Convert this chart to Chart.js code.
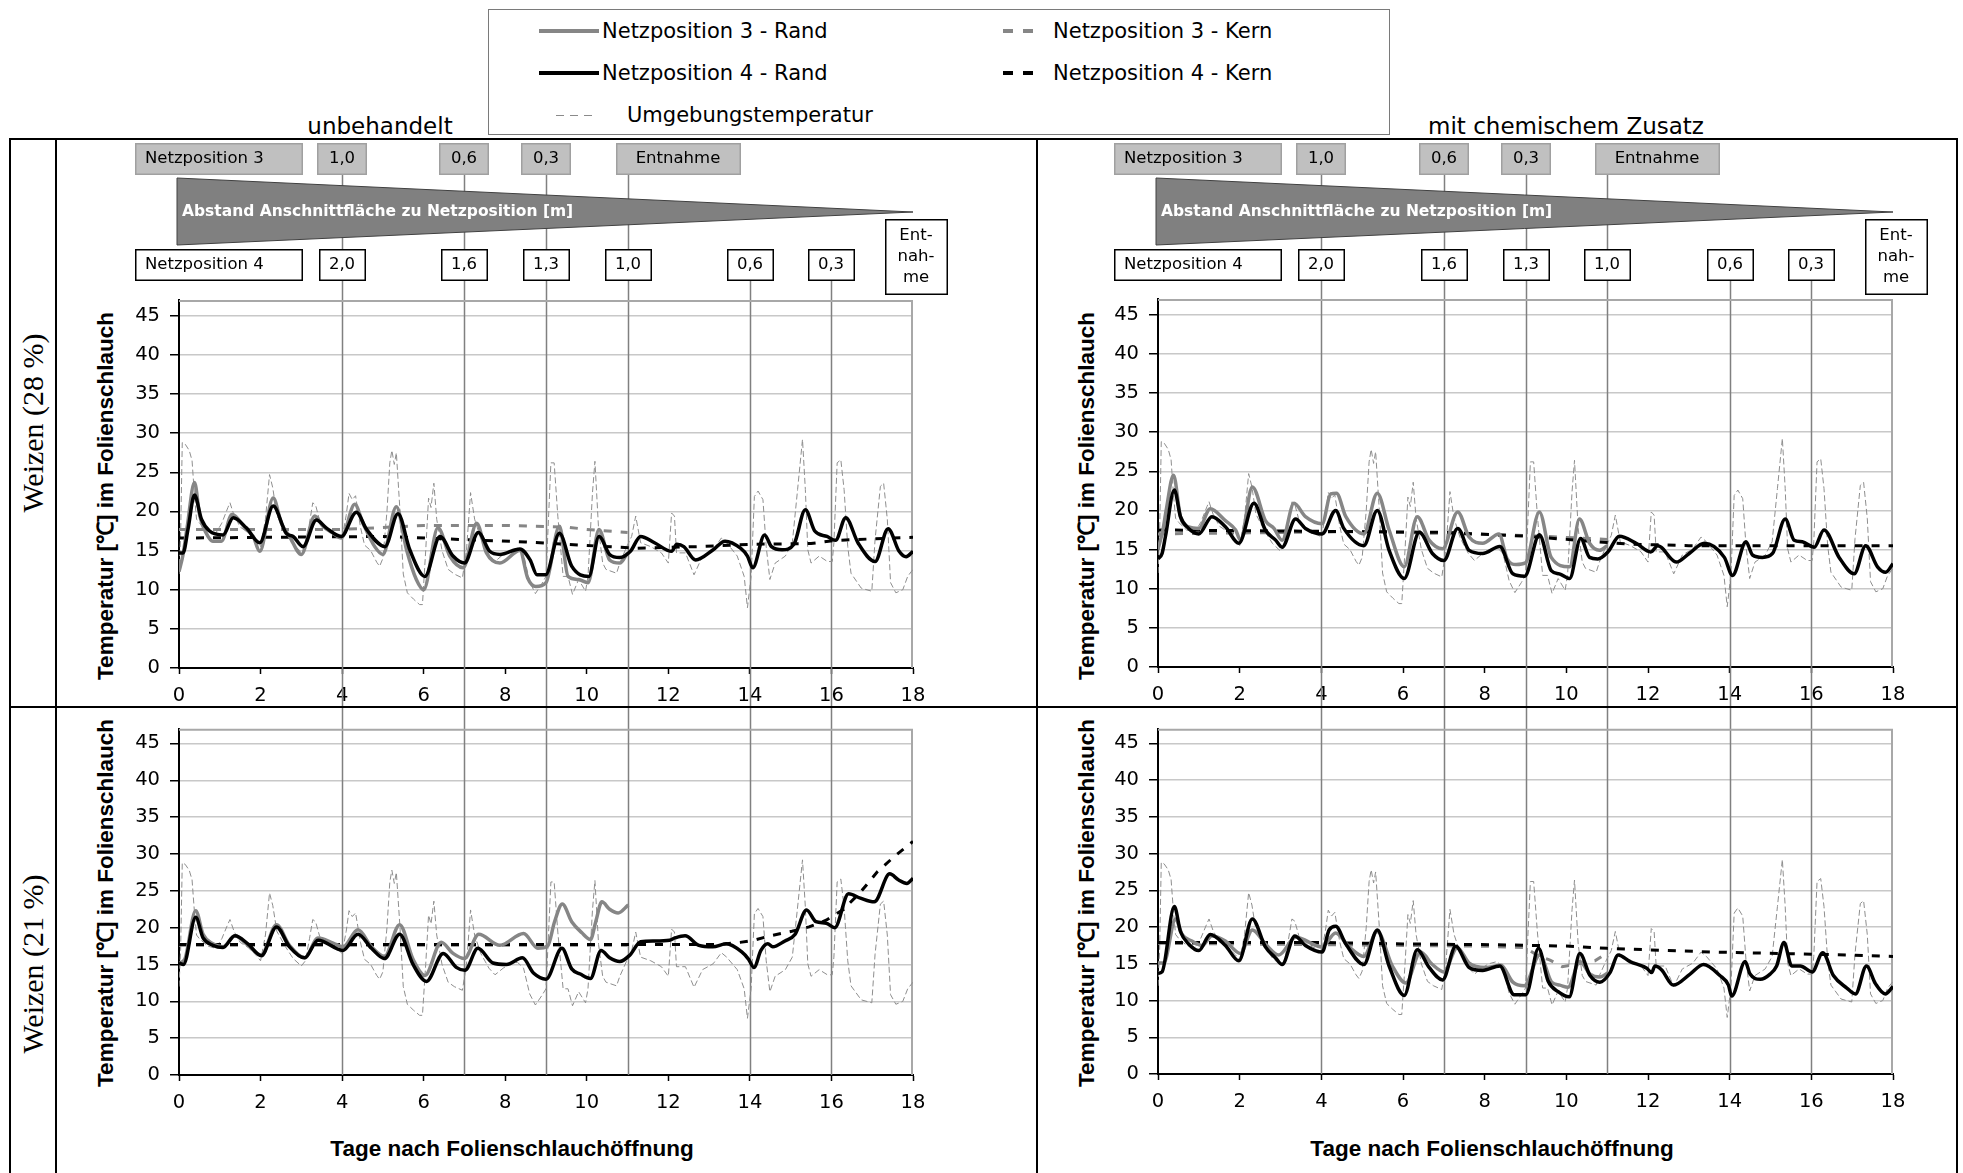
<!DOCTYPE html>
<html lang="de">
<head>
<meta charset="utf-8">
<title>Temperatur im Folienschlauch</title>
<script src="https://cdn.jsdelivr.net/npm/chart.js@4.4.1/dist/chart.umd.min.js"></script>
<style>
  html, body { margin: 0; padding: 0; background: #fff; }
  body { position: relative; width: 1963px; height: 1173px; overflow: hidden; font-family: "DejaVu Sans", sans-serif; color: #000; }
  canvas { position: absolute; }
  .rule { position: absolute; background: #000; z-index: 5; }
  .txt { position: absolute; white-space: nowrap; transform: translate(-50%, -50%); }
  .vert { transform: translate(-50%, -50%) rotate(-90deg); }
  .axis-title { font: bold 22.5px "Liberation Sans", Arial, sans-serif; }
  .row-title { font: 30px "Liberation Serif", "Times New Roman", serif; }
  .col-title { font: 23px "DejaVu Sans", sans-serif; }
  #legend { position: absolute; left: 488px; top: 9px; width: 900px; height: 124px; border: 1.5px solid #7a7a7a; background: #fff; }
  #legend .swatch { position: absolute; height: 4px; margin-top: -2px; }
  #legend .lbl { position: absolute; font: 21px "DejaVu Sans", sans-serif; white-space: nowrap; transform: translateY(-50%); }
</style>
</head>
<body>

<div id="legend">
  <div class="swatch" style="left:50px; top:21px; width:60px; background:#868686;"></div>
  <div class="lbl" style="left:113px; top:21px;">Netzposition 3 - Rand</div>
  <div class="swatch" style="left:50px; top:63px; width:60px; background:#000;"></div>
  <div class="lbl" style="left:113px; top:63px;">Netzposition 4 - Rand</div>
  <div class="swatch" style="left:67px; top:105px; width:40px; height:1px; margin-top:0; background:repeating-linear-gradient(90deg, #8a8a8a 0 8px, transparent 8px 14px);"></div>
  <div class="lbl" style="left:138px; top:105px;">Umgebungstemperatur</div>
  <div class="swatch" style="left:514px; top:21px; width:30px; background:repeating-linear-gradient(90deg, #868686 0 10px, transparent 10px 20px);"></div>
  <div class="lbl" style="left:564px; top:21px;">Netzposition 3 - Kern</div>
  <div class="swatch" style="left:514px; top:63px; width:30px; background:repeating-linear-gradient(90deg, #000 0 10px, transparent 10px 20px);"></div>
  <div class="lbl" style="left:564px; top:63px;">Netzposition 4 - Kern</div>
</div>

<div class="txt col-title" style="left:380px; top:126px;">unbehandelt</div>
<div class="txt col-title" style="left:1566px; top:126px;">mit chemischem Zusatz</div>

<div class="txt row-title vert" style="left:33px; top:423px;">Weizen (28 %)</div>
<div class="txt row-title vert" style="left:33px; top:964px;">Weizen (21 %)</div>

<div class="txt axis-title vert" style="left:104px; top:496px;">Temperatur [℃] im Folienschlauch</div>
<div class="txt axis-title vert" style="left:104px; top:903px;">Temperatur [℃] im Folienschlauch</div>
<div class="txt axis-title vert" style="left:1085px; top:496px;">Temperatur [℃] im Folienschlauch</div>
<div class="txt axis-title vert" style="left:1085px; top:903px;">Temperatur [℃] im Folienschlauch</div>
<div class="txt axis-title" style="left:512px; top:1149px;">Tage nach Folienschlauchöffnung</div>
<div class="txt axis-title" style="left:1492px; top:1149px;">Tage nach Folienschlauchöffnung</div>

<canvas id="u28" width="981" height="568" style="left:56px; top:139px;"></canvas>
<canvas id="c28" width="920" height="568" style="left:1037px; top:139px;"></canvas>
<canvas id="u21" width="981" height="466" style="left:56px; top:707px;"></canvas>
<canvas id="c21" width="920" height="466" style="left:1037px; top:707px;"></canvas>

<div class="rule" style="left:9px; top:138px; width:1949px; height:2px;"></div>
<div class="rule" style="left:9px; top:706px; width:1949px; height:2px;"></div>
<div class="rule" style="left:9px; top:138px; width:2px; height:1040px;"></div>
<div class="rule" style="left:55px; top:138px; width:2px; height:1040px;"></div>
<div class="rule" style="left:1036px; top:138px; width:2px; height:1040px;"></div>
<div class="rule" style="left:1956px; top:138px; width:2px; height:1040px;"></div>

<script>
// axes
const yTickValues = [0, 5, 10, 15, 20, 25, 30, 35, 40, 45];
const dayMin = 0, dayMax = 18, dayStep = 2;
const tempMin = 0, tempMax = 47;

// net positions: day the cut face reached them and the remaining distance [m]
const net3Days = [4, 7, 9];
const net3Dist = ['1,0', '0,6', '0,3'];
const net3RemovalDay = 11;
const net4Days = [4, 7, 9, 11, 14, 16];
const net4Dist = ['2,0', '1,6', '1,3', '1,0', '0,6', '0,3'];
const net4RemovalDay = 18;

// ambient temperature, [day, °C]
const ambient = [
  [0, 12], [0.04, 17], [0.08, 28.8], [0.15, 28.6], [0.25, 27.8], [0.32, 26.5], [0.38, 22], [0.43, 19],
  [0.5, 18.5], [0.7, 17.5], [0.9, 17.2], [1.05, 18.5], [1.2, 20.5], [1.25, 21.1], [1.35, 19.5], [1.5, 18],
  [1.7, 17.3], [1.9, 16.2], [2.0, 15.5], [2.12, 19], [2.22, 24.7], [2.3, 23], [2.4, 19.5], [2.6, 17.5],
  [2.8, 15.8], [3.0, 14.8], [3.1, 15.5], [3.2, 18.5], [3.28, 21.1], [3.35, 20.8], [3.45, 18.8], [3.7, 17.5],
  [3.9, 17], [4.0, 16.5], [4.1, 19.5], [4.17, 22.3], [4.25, 21.5], [4.33, 22], [4.45, 18], [4.55, 15.7],
  [4.7, 15], [4.85, 13.5], [4.92, 13], [5.0, 14], [5.1, 20], [5.17, 26.2], [5.22, 27.8], [5.28, 26],
  [5.33, 27.5], [5.42, 20], [5.5, 12], [5.6, 9.6], [5.75, 8.8], [5.9, 8.1], [5.97, 8.1], [6.05, 15],
  [6.12, 21.7], [6.18, 20.5], [6.25, 23.6], [6.32, 19], [6.45, 15], [6.6, 12.6], [6.75, 12], [6.95, 11.5],
  [7.05, 15], [7.15, 22.4], [7.25, 19], [7.4, 16.5], [7.6, 14.5], [7.75, 13.6], [7.95, 14.5], [8.1, 15],
  [8.3, 15.3], [8.45, 14.5], [8.6, 11], [8.74, 9.5], [8.9, 10.8], [9.0, 11.7], [9.12, 26.2], [9.2, 26.2],
  [9.29, 19.4], [9.42, 11.7], [9.54, 11.7], [9.65, 9.4], [9.8, 11.3], [9.97, 9.8], [10.03, 11.7], [10.14, 22.4],
  [10.2, 26.4], [10.29, 17.7], [10.39, 13.4], [10.47, 12.6], [10.73, 12.1], [10.81, 13.4], [10.98, 15.5], [11.1, 16.8],
  [11.2, 19.4], [11.32, 16], [11.57, 15.5], [11.83, 14.7], [12.0, 13.4], [12.08, 19.8], [12.15, 19.4], [12.2, 14.7],
  [12.42, 14.7], [12.63, 11.9], [12.84, 14.3], [13.1, 15.1], [13.3, 16.6], [13.43, 16], [13.69, 14.3], [13.86, 11.7],
  [13.94, 7.7], [14.03, 11.7], [14.11, 21.9], [14.2, 22.6], [14.32, 21.5], [14.4, 15.5], [14.49, 11.3], [14.62, 13.4],
  [14.87, 14.3], [15.04, 16], [15.17, 22.8], [15.29, 29.2], [15.36, 22.8], [15.42, 15.1], [15.5, 13.4], [15.7, 14.3],
  [15.9, 13.6], [16.02, 13.6], [16.06, 16], [16.14, 26.2], [16.23, 26.6], [16.31, 22.8], [16.4, 15.5], [16.48, 12.1],
  [16.73, 10.2], [16.99, 9.8], [17.07, 16.4], [17.2, 23.2], [17.28, 23.6], [17.37, 19], [17.45, 10.9], [17.58, 9.6],
  [17.75, 10], [17.87, 11.7], [18, 12.6]
];

// Weizen (28 %), unbehandelt
const u28Rand3 = [
  [0, 12.3], [0.1, 14.5], [0.2, 18], [0.38, 23.7], [0.51, 19.4], [0.67, 17.2], [0.83, 16.2], [1.04, 16.2],
  [1.3, 19.6], [1.65, 17.7], [1.82, 16.8], [1.98, 14.9], [2.31, 21.7], [2.51, 18.5], [2.71, 16.8], [3.0, 14.5],
  [3.33, 19.4], [3.53, 18.1], [3.78, 17.2], [3.98, 16.6], [4.31, 20.9], [4.51, 18.5], [4.8, 15.5], [5.0, 14.5],
  [5.33, 20.6], [5.58, 15.1], [5.82, 11.3], [6.0, 10], [6.35, 17.9], [6.64, 14.3], [6.97, 12.8], [7.3, 18.5],
  [7.54, 14.7], [7.87, 13.4], [8.36, 15.0], [8.55, 11.5], [8.75, 10.4], [9.0, 10.9], [9.33, 18.1], [9.54, 11.7],
  [9.8, 11.3], [10.03, 10.9], [10.3, 17.7], [10.56, 13.8], [10.81, 13.4], [11.0, 14.7]
];
const u28Rand4 = [
  [0, 14.7], [0.1, 14.7], [0.22, 17.7], [0.38, 22.1], [0.55, 19], [0.75, 17.5], [1.08, 17], [1.33, 19.2],
  [1.65, 17.9], [1.98, 16], [2.31, 20.7], [2.63, 17.2], [2.8, 16.8], [3.04, 15.5], [3.37, 18.9], [3.61, 17.9],
  [3.98, 16.8], [4.35, 19.9], [4.6, 17.7], [5.05, 15.5], [5.37, 19.7], [5.66, 15.1], [6.03, 11.7], [6.4, 16.8],
  [6.72, 14.3], [7.0, 13.4], [7.34, 17.3], [7.62, 14.9], [7.87, 14.5], [8.36, 15.2], [8.61, 13.8], [8.78, 11.9],
  [8.99, 11.9], [9.33, 17.2], [9.63, 13], [10.05, 11.7], [10.3, 16.8], [10.56, 14.5], [10.81, 14.1], [11.07, 14.9],
  [11.32, 16.8], [11.66, 16], [12.08, 14.9], [12.21, 15.8], [12.38, 15.5], [12.67, 13.8], [13.1, 15.1], [13.39, 16.2],
  [13.77, 15.3], [13.94, 14.3], [14.07, 12.8], [14.36, 17], [14.53, 15.5], [14.79, 15.1], [15.08, 15.8], [15.36, 20.2],
  [15.59, 17.5], [15.89, 16.8], [16.1, 16.3], [16.35, 19.2], [16.65, 16], [17.07, 13.6], [17.39, 17.8], [17.66, 14.9],
  [17.83, 14.2], [18, 14.9]
];
const u28Kern3 = [[0, 17.7], [4, 17.7], [6, 18.2], [8, 18.2], [9.5, 18], [10, 17.7], [11, 17.3]];
const u28Kern4 = [[0, 16.6], [5, 16.8], [8.5, 16.1], [11.2, 15.3], [12.7, 15.5], [14, 15.8], [15.5, 15.9], [16.1, 16.3], [18, 16.7]];

// Weizen (28 %), mit chemischem Zusatz
const c28Rand3 = [
  [0, 15], [0.12, 17.5], [0.2, 20], [0.38, 24.5], [0.55, 19.2], [0.75, 17.9], [1.0, 17.7], [1.28, 20.2],
  [1.65, 18.7], [1.9, 17.5], [2.02, 16.2], [2.31, 23], [2.63, 18.7], [2.84, 17.7], [3.04, 16.2], [3.33, 20.9],
  [3.61, 19.2], [4.02, 18.3], [4.23, 22.1], [4.37, 22.2], [4.6, 19.2], [5.04, 17], [5.37, 22.2], [5.66, 17.5],
  [6.03, 12.8], [6.35, 19.2], [6.64, 16.2], [6.97, 15.1], [7.34, 19.8], [7.62, 16.6], [7.95, 15.8], [8.35, 17],
  [8.55, 13.8], [8.77, 13.1], [9.0, 13.3], [9.34, 19.8], [9.63, 14], [10.08, 12.8], [10.32, 18.9], [10.57, 15.8],
  [10.81, 14.9], [11.0, 15.5]
];
const c28Rand4 = [
  [0, 13.8], [0.1, 14.5], [0.18, 16.6], [0.4, 22.6], [0.55, 19.2], [0.75, 17.7], [1.0, 17], [1.32, 19.2],
  [1.65, 17.9], [1.98, 15.8], [2.35, 20.9], [2.63, 17.5], [2.88, 16.2], [3.04, 15.3], [3.37, 18.9], [3.61, 17.7],
  [4.02, 17], [4.35, 20], [4.55, 17.7], [5.04, 15.5], [5.37, 20], [5.66, 14.9], [6.03, 11.3], [6.4, 17.2],
  [6.72, 14.5], [7.0, 13.6], [7.34, 17.7], [7.62, 14.9], [7.95, 14.5], [8.37, 15.4], [8.69, 11.9], [8.98, 11.6],
  [9.34, 16.9], [9.63, 12.3], [9.83, 11.9], [10.08, 11.3], [10.35, 16.4], [10.57, 14], [10.77, 13.8], [11.02, 14.7],
  [11.3, 16.7], [11.71, 15.8], [12.07, 14.7], [12.24, 15.5], [12.32, 15.3], [12.69, 13.4], [13.01, 14.5], [13.38, 15.8],
  [13.87, 14], [14.07, 11.7], [14.4, 16], [14.56, 14.3], [14.8, 14], [15.05, 14.5], [15.36, 18.9], [15.58, 16.2],
  [15.78, 16], [16.07, 15.3], [16.31, 17.5], [16.68, 14], [17.05, 11.9], [17.33, 15.5], [17.62, 12.8], [17.82, 12.1],
  [18, 13.2]
];
const c28Kern3 = [[0, 17.0], [5, 17.3], [9, 16.8], [11, 16.3]];
const c28Kern4 = [[0, 17.5], [7, 17.2], [9, 16.7], [10, 16.3], [11.5, 15.7], [13, 15.5], [18, 15.5]];

// Weizen (21 %), unbehandelt
const u21Rand3 = [
  [0, 15.2], [0.14, 15.7], [0.41, 22.3], [0.59, 19.1], [0.83, 17.8], [1.08, 17.4], [1.37, 18.9], [1.65, 17.8],
  [2.02, 16.3], [2.39, 20.4], [2.71, 17.6], [3.08, 15.9], [3.41, 18.6], [3.78, 17.9], [4.02, 17.4], [4.39, 19.7],
  [4.72, 17.4], [5.04, 16.1], [5.41, 20.4], [5.74, 15.7], [6.03, 13.5], [6.43, 18], [6.72, 16.5], [7.0, 15.8],
  [7.35, 19.1], [7.87, 17.6], [8.45, 19.2], [8.8, 17.2], [9.04, 17.5], [9.21, 20.8], [9.4, 23.2], [9.63, 20.8],
  [9.88, 19.3], [10.09, 18.4], [10.22, 20.8], [10.37, 23.5], [10.56, 22.5], [10.77, 22], [11.02, 23.1]
];
const u21Rand4 = [
  [0, 15.2], [0.11, 15], [0.41, 21.4], [0.59, 18.6], [0.83, 17.6], [1.08, 17.3], [1.37, 18.9], [1.69, 17.8],
  [2.02, 16.2], [2.39, 20.1], [2.71, 17.4], [3.08, 15.9], [3.41, 18.3], [4.02, 16.9], [4.39, 19.1], [4.72, 17.2],
  [5.04, 15.8], [5.41, 19.1], [5.74, 15], [6.07, 12.7], [6.48, 16.5], [6.8, 14.6], [7.01, 14.2], [7.33, 17.2],
  [7.7, 15.2], [8.03, 15], [8.42, 15.9], [8.7, 13.8], [9.0, 13], [9.39, 17.2], [9.63, 14.4], [9.84, 13.7],
  [10.09, 13.1], [10.35, 16.9], [10.56, 15.9], [10.81, 15.4], [11.06, 16.3], [11.32, 18.1], [11.65, 18.2], [12.03, 18.3],
  [12.16, 18.6], [12.41, 18.9], [12.75, 17.6], [13.09, 17.4], [13.42, 17.8], [13.8, 16.7], [13.97, 15.7], [14.1, 14.6],
  [14.27, 16.9], [14.44, 17.8], [14.56, 17.4], [14.86, 18.2], [15.11, 19.1], [15.39, 22.4], [15.62, 20.8], [15.87, 20.6],
  [16.08, 20], [16.42, 24.6], [16.71, 24], [17.05, 23.5], [17.43, 27.3], [17.64, 26.5], [17.85, 26], [18, 26.7]
];
const u21Kern3 = [[0, 17.6], [11, 17.6]];
const u21Kern4 = [
  [0, 17.7], [13.25, 17.7], [13.76, 18], [14.1, 18.3], [14.5, 18.9], [15.03, 19.5], [15.45, 20.1],
  [15.87, 21], [16.3, 22.5], [16.71, 24.8], [17.13, 27.6], [17.55, 29.7], [18, 31.7]
];

// Weizen (21 %), mit chemischem Zusatz
const c21Rand3 = [
  [0, 15.1], [0.14, 15.1], [0.43, 21.1], [0.59, 19], [0.83, 18.1], [1.08, 17.5], [1.32, 18.8], [1.65, 18.1],
  [2.02, 16.4], [2.31, 19.6], [2.63, 17.7], [2.96, 16.2], [3.37, 18.6], [4.02, 17.3], [4.35, 19.2], [4.68, 17.3],
  [5.04, 16], [5.37, 19.4], [5.74, 14.7], [6.07, 12.4], [6.43, 16.6], [6.72, 14.9], [7.0, 13.9], [7.33, 17.2],
  [7.62, 15.1], [8.03, 14.5], [8.4, 14.8], [8.69, 12.5], [8.97, 12], [9.35, 16.2], [9.64, 12.5], [9.84, 12.1],
  [10.04, 11.8], [10.33, 15.3], [10.58, 13.6], [10.82, 13.2], [11.03, 13.8]
];
const c21Rand4 = [
  [0, 13.7], [0.1, 13.9], [0.4, 22.8], [0.55, 19.4], [0.75, 17.7], [1.0, 16.8], [1.28, 19], [1.65, 17.5],
  [1.98, 15.4], [2.31, 21.1], [2.63, 17.3], [2.88, 15.8], [3.04, 14.9], [3.35, 18.8], [3.61, 17.5], [4.02, 16.6],
  [4.19, 19.6], [4.35, 20.1], [4.6, 17.7], [5.04, 14.9], [5.37, 19.6], [5.66, 14.7], [6.03, 10.7], [6.35, 16.9],
  [6.64, 14.5], [6.97, 12.8], [7.29, 17.4], [7.62, 14.5], [7.95, 14.1], [8.37, 14.7], [8.72, 10.8], [9.01, 10.8],
  [9.32, 17.1], [9.55, 12.7], [9.8, 11.2], [10.07, 10.5], [10.33, 16.4], [10.58, 13.4], [10.82, 12.5], [11.07, 13.8],
  [11.27, 16.2], [11.56, 15.3], [11.97, 14.4], [12.09, 13.8], [12.17, 14.7], [12.33, 14.2], [12.62, 12.1], [13.03, 13.6],
  [13.36, 14.9], [13.76, 13.4], [13.97, 12.1], [14.05, 10.6], [14.38, 15.3], [14.5, 13.6], [14.75, 12.9], [14.99, 13.6],
  [15.15, 14.7], [15.33, 17.9], [15.52, 14.7], [15.73, 14.7], [16.02, 13.9], [16.28, 16.5], [16.54, 13.4], [16.87, 11.7],
  [17.08, 10.9], [17.35, 14.7], [17.57, 12.3], [17.81, 10.9], [18, 11.9]
];
const c21Kern3 = [[0, 17.8], [8, 17.4], [9.0, 17.2], [9.3, 16.1], [9.6, 15.5], [9.9, 14.6], [10.3, 15], [10.7, 15.4], [11, 16.5]];
const c21Kern4 = [
  [0, 17.9], [4, 17.9], [6, 17.7], [8.2, 17.6], [10.1, 17.4], [11, 17.1], [12, 16.9], [13.6, 16.6],
  [15.2, 16.4], [16.9, 16.2], [18, 16.0]
];

// ---------------------------------------------------------------------------

Chart.defaults.font.family = '"DejaVu Sans", sans-serif';
Chart.defaults.color = '#000';

const tickFont = { family: '"DejaVu Sans", sans-serif', size: 19.5 };
const headFont = '16.5px "DejaVu Sans", sans-serif';

function pts(pairs) {
  return pairs.map(([x, y]) => ({ x, y }));
}

function drawBox(ctx, left, top, w, h, fill, stroke) {
  ctx.fillStyle = fill;
  ctx.fillRect(left, top, w, h);
  ctx.strokeStyle = stroke;
  ctx.lineWidth = 1.5;
  ctx.strokeRect(left + 0.75, top + 0.75, w - 1.5, h - 1.5);
}

function drawText(ctx, text, x, y, align, font, color) {
  ctx.font = font;
  ctx.fillStyle = color;
  ctx.textAlign = align;
  ctx.textBaseline = 'middle';
  ctx.fillText(text, x, y);
}

// vertical lines where the cut face reached a net position, plus the top/right plot border
const netMarkers = {
  id: 'netMarkers',
  beforeDatasetsDraw(chart, args, opts) {
    const { ctx, chartArea: a, scales: { x } } = chart;
    ctx.save();
    ctx.strokeStyle = '#808080';
    ctx.lineWidth = 1.5;
    net4Days.forEach(d => {
      const p = Math.round(x.getPixelForValue(d)) + 0.5;
      let y0 = 0, y1 = a.bottom;
      if (opts.header) {
        y0 = (net3Days.includes(d) || d === net3RemovalDay) ? 36 : 142;
        y1 = chart.height;
      }
      ctx.beginPath();
      ctx.moveTo(p, y0);
      ctx.lineTo(p, y1);
      ctx.stroke();
    });
    ctx.strokeStyle = '#a8a8a8';
    ctx.lineWidth = 2;
    ctx.beginPath();
    ctx.moveTo(a.left, a.top + 1);
    ctx.lineTo(a.right - 1, a.top + 1);
    ctx.lineTo(a.right - 1, a.bottom);
    ctx.stroke();
    ctx.restore();
  }
};

// boxes and wedge above the upper panels: distance of the cut face to each net position
const netHeader = {
  id: 'netHeader',
  afterDraw(chart, args, opts) {
    if (!opts.header) return;
    const { ctx, chartArea: a, scales: { x } } = chart;
    const px = d => Math.round(x.getPixelForValue(d));
    const nameLeft = a.left - 44, nameW = 168;
    ctx.save();

    // net position 3
    drawBox(ctx, nameLeft, 4, nameW, 32, '#c0c0c0', '#a0a0a0');
    drawText(ctx, 'Netzposition 3', nameLeft + 10, 20, 'left', headFont, '#000');
    net3Days.forEach((d, i) => {
      drawBox(ctx, px(d) - 25, 4, 50, 32, '#c0c0c0', '#a0a0a0');
      drawText(ctx, net3Dist[i], px(d), 20, 'center', headFont, '#000');
    });
    const r3 = px(net3RemovalDay) - 12;
    drawBox(ctx, r3, 4, 125, 32, '#c0c0c0', '#a0a0a0');
    drawText(ctx, 'Entnahme', r3 + 62, 20, 'center', headFont, '#000');

    // wedge
    ctx.beginPath();
    ctx.moveTo(a.left - 2, 39);
    ctx.lineTo(px(dayMax), 73);
    ctx.lineTo(a.left - 2, 106);
    ctx.closePath();
    ctx.fillStyle = '#808080';
    ctx.fill();
    ctx.strokeStyle = '#404040';
    ctx.lineWidth = 1;
    ctx.stroke();
    drawText(ctx, 'Abstand Anschnittfläche zu Netzposition [m]', a.left + 3, 73, 'left',
      'bold 15.5px "DejaVu Sans", sans-serif', '#fff');

    // net position 4
    drawBox(ctx, nameLeft, 110, nameW, 32, '#fff', '#000');
    drawText(ctx, 'Netzposition 4', nameLeft + 10, 126, 'left', headFont, '#000');
    net4Days.forEach((d, i) => {
      drawBox(ctx, px(d) - 23, 110, 47, 32, '#fff', '#000');
      drawText(ctx, net4Dist[i], px(d), 126, 'center', headFont, '#000');
    });
    const r4 = px(net4RemovalDay) + 3;
    drawBox(ctx, r4 - 31, 80, 63, 76, '#fff', '#000');
    ['Ent-', 'nah-', 'me'].forEach((t, i) => drawText(ctx, t, r4, 97 + i * 21, 'center', headFont, '#000'));

    ctx.restore();
  }
};

function buildPanel(id, series, geo) {
  const line = { pointRadius: 0, fill: false, tension: 0 };
  new Chart(document.getElementById(id), {
    type: 'line',
    data: {
      datasets: [
        { ...line, label: 'Netzposition 4 - Rand', data: pts(series.rand4), borderColor: '#000', borderWidth: 3.5, cubicInterpolationMode: 'monotone' },
        { ...line, label: 'Netzposition 3 - Rand', data: pts(series.rand3), borderColor: '#868686', borderWidth: 3.5, cubicInterpolationMode: 'monotone' },
        { ...line, label: 'Netzposition 4 - Kern', data: pts(series.kern4), borderColor: '#000', borderWidth: 3, borderDash: [8, 9] },
        { ...line, label: 'Netzposition 3 - Kern', data: pts(series.kern3), borderColor: '#868686', borderWidth: 3, borderDash: [8, 9] },
        { ...line, label: 'Umgebungstemperatur', data: pts(ambient), borderColor: '#8e8e8e', borderWidth: 1, borderDash: [6, 3] }
      ]
    },
    options: {
      responsive: false,
      animation: false,
      devicePixelRatio: 1,
      events: [],
      layout: { padding: { top: geo.padTop, right: geo.padRight, left: 0, bottom: 0 } },
      plugins: {
        legend: { display: false },
        tooltip: { enabled: false },
        netMarkers: { header: geo.header },
        netHeader: { header: geo.header }
      },
      scales: {
        x: {
          type: 'linear',
          min: dayMin,
          max: dayMax,
          ticks: { stepSize: dayStep, font: tickFont, color: '#000', padding: 10, maxRotation: 0 },
          grid: { drawOnChartArea: false, tickLength: 6, tickColor: '#000', tickWidth: 1.5 },
          border: { color: '#000', width: 2 },
          afterFit(s) { s.height = geo.xHeight; }
        },
        y: {
          min: tempMin,
          max: tempMax,
          afterBuildTicks(s) { s.ticks = yTickValues.map(v => ({ value: v })); },
          ticks: { font: tickFont, color: '#000', padding: 10 },
          grid: { color: '#c8c8c8', lineWidth: 1.5, tickLength: 9, tickColor: '#000', tickWidth: 1.5 },
          border: { color: '#000', width: 2 },
          afterFit(s) { s.width = geo.yWidth; }
        }
      }
    },
    plugins: [netMarkers, netHeader]
  });
}

buildPanel('u28', { rand3: u28Rand3, rand4: u28Rand4, kern3: u28Kern3, kern4: u28Kern4 },
  { header: true, padTop: 161, padRight: 124, yWidth: 123, xHeight: 39 });
buildPanel('c28', { rand3: c28Rand3, rand4: c28Rand4, kern3: c28Kern3, kern4: c28Kern4 },
  { header: true, padTop: 160, padRight: 64, yWidth: 121, xHeight: 40 });
buildPanel('u21', { rand3: u21Rand3, rand4: u21Rand4, kern3: u21Kern3, kern4: u21Kern4 },
  { header: false, padTop: 1, padRight: 124, yWidth: 123, xHeight: 98 });
buildPanel('c21', { rand3: c21Rand3, rand4: c21Rand4, kern3: c21Kern3, kern4: c21Kern4 },
  { header: false, padTop: 1, padRight: 64, yWidth: 121, xHeight: 99 });
</script>
</body>
</html>
